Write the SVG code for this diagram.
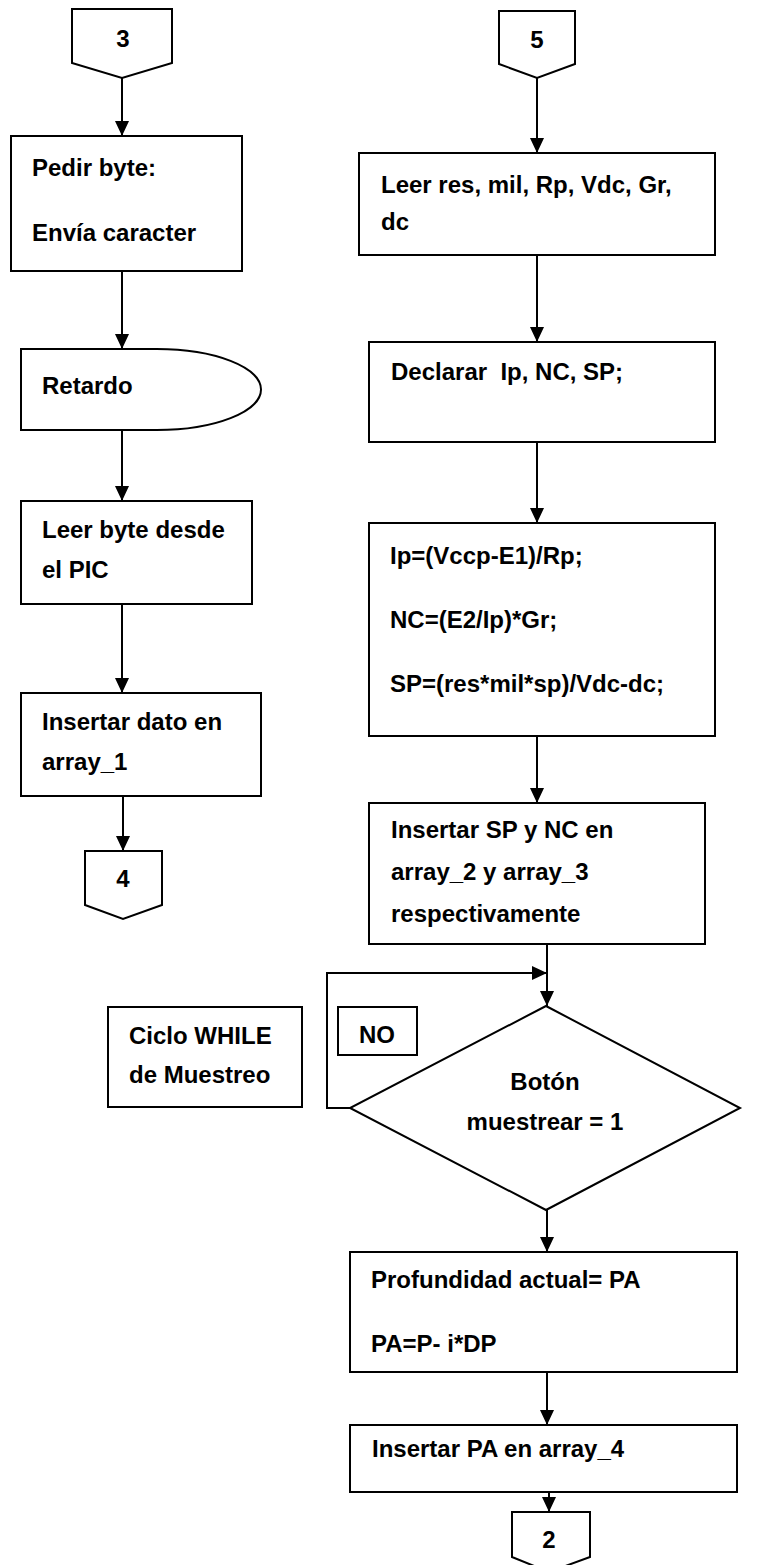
<svg xmlns="http://www.w3.org/2000/svg" width="769" height="1565" viewBox="0 0 769 1565">
<defs>
<style>
.s{fill:#fff;stroke:#000;stroke-width:2}
.t{font-family:"Liberation Sans",Arial,sans-serif;font-weight:bold;font-size:24px;fill:#000}
.c{text-anchor:middle}
.l{fill:none;stroke:#000;stroke-width:2}
</style>
<marker id="ah" markerUnits="userSpaceOnUse" markerWidth="15" markerHeight="14" refX="15" refY="7" orient="auto">
<path d="M0,0 L15,7 L0,14 Z" fill="#000"/>
</marker>
</defs>
<rect width="769" height="1565" fill="#fff"/>
<g id="connectors">
<path class="l" d="M122,78 V136" marker-end="url(#ah)"/>
<path class="l" d="M122,271 V349" marker-end="url(#ah)"/>
<path class="l" d="M122,430 V501" marker-end="url(#ah)"/>
<path class="l" d="M122,604 V693" marker-end="url(#ah)"/>
<path class="l" d="M123,796 V851" marker-end="url(#ah)"/>
<path class="l" d="M537,78 V153" marker-end="url(#ah)"/>
<path class="l" d="M537,255 V342" marker-end="url(#ah)"/>
<path class="l" d="M537,442 V523" marker-end="url(#ah)"/>
<path class="l" d="M537,736 V803" marker-end="url(#ah)"/>
<path class="l" d="M547,944 V1006" marker-end="url(#ah)"/>
<path class="l" d="M350,1108 H327 V973 H547" marker-end="url(#ah)"/>
<path class="l" d="M547,1210 V1252" marker-end="url(#ah)"/>
<path class="l" d="M547,1372 V1425" marker-end="url(#ah)"/>
<path class="l" d="M549,1492 V1512" marker-end="url(#ah)"/>
</g>
<g id="conn3">
<path class="s" d="M72,9 H172 V63 L122,78 L72,63 Z"/>
<text class="t c" x="123" y="47">3</text>
</g>
<g id="pedir">
<rect class="s" x="11" y="136" width="231" height="135"/>
<text class="t" x="32" y="176">Pedir byte:</text>
<text class="t" x="32" y="241">Envía caracter</text>
</g>
<g id="retardo">
<path class="s" d="M21,349 H157 A104,40.5 0 0 1 157,430 H21 Z"/>
<text class="t" x="42" y="394">Retardo</text>
</g>
<g id="leerbyte">
<rect class="s" x="21" y="501" width="231" height="103"/>
<text class="t" x="42" y="538">Leer byte desde</text>
<text class="t" x="42" y="578">el PIC</text>
</g>
<g id="insertardato">
<rect class="s" x="21" y="693" width="240" height="103"/>
<text class="t" x="42" y="730">Insertar dato en</text>
<text class="t" x="42" y="770">array_1</text>
</g>
<g id="conn4">
<path class="s" d="M85,851 H162 V905 L123,919 L85,905 Z"/>
<text class="t c" x="123" y="887">4</text>
</g>
<g id="conn5">
<path class="s" d="M499,11 H575 V64 L537,78 L499,64 Z"/>
<text class="t c" x="537" y="48">5</text>
</g>
<g id="leerres">
<rect class="s" x="359" y="153" width="356" height="102"/>
<text class="t" x="381" y="193">Leer res, mil, Rp, Vdc, Gr,</text>
<text class="t" x="381" y="230">dc</text>
</g>
<g id="declarar">
<rect class="s" x="369" y="342" width="346" height="100"/>
<text class="t" x="391" y="380" xml:space="preserve">Declarar  Ip, NC, SP;</text>
</g>
<g id="calculos">
<rect class="s" x="369" y="523" width="346" height="213"/>
<text class="t" x="390" y="564">Ip=(Vccp-E1)/Rp;</text>
<text class="t" x="390" y="628">NC=(E2/Ip)*Gr;</text>
<text class="t" x="390" y="692">SP=(res*mil*sp)/Vdc-dc;</text>
</g>
<g id="insertarsp">
<rect class="s" x="369" y="803" width="336" height="141"/>
<text class="t" x="391" y="838">Insertar SP y NC en</text>
<text class="t" x="391" y="880">array_2 y array_3</text>
<text class="t" x="391" y="922">respectivamente</text>
</g>
<g id="ciclo">
<rect class="s" x="108" y="1007" width="194" height="100"/>
<text class="t" x="129" y="1044">Ciclo WHILE</text>
<text class="t" x="129" y="1083">de Muestreo</text>
</g>
<g id="no">
<rect class="s" x="338" y="1007" width="79" height="48"/>
<text class="t c" x="377" y="1043">NO</text>
</g>
<g id="boton">
<path class="s" d="M546,1006 L740,1108 L546,1210 L350,1108 Z"/>
<text class="t c" x="545" y="1090">Botón</text>
<text class="t c" x="545" y="1130">muestrear = 1</text>
</g>
<g id="profundidad">
<rect class="s" x="350" y="1252" width="387" height="120"/>
<text class="t" x="371" y="1288">Profundidad actual= PA</text>
<text class="t" x="371" y="1352">PA=P- i*DP</text>
</g>
<g id="insertarpa">
<rect class="s" x="350" y="1425" width="387" height="67"/>
<text class="t" x="372" y="1457">Insertar PA en array_4</text>
</g>
<g id="conn2">
<path class="s" d="M512,1512 H590 V1557 L549,1572 L512,1557 Z"/>
<text class="t c" x="549" y="1548">2</text>
</g>
</svg>
